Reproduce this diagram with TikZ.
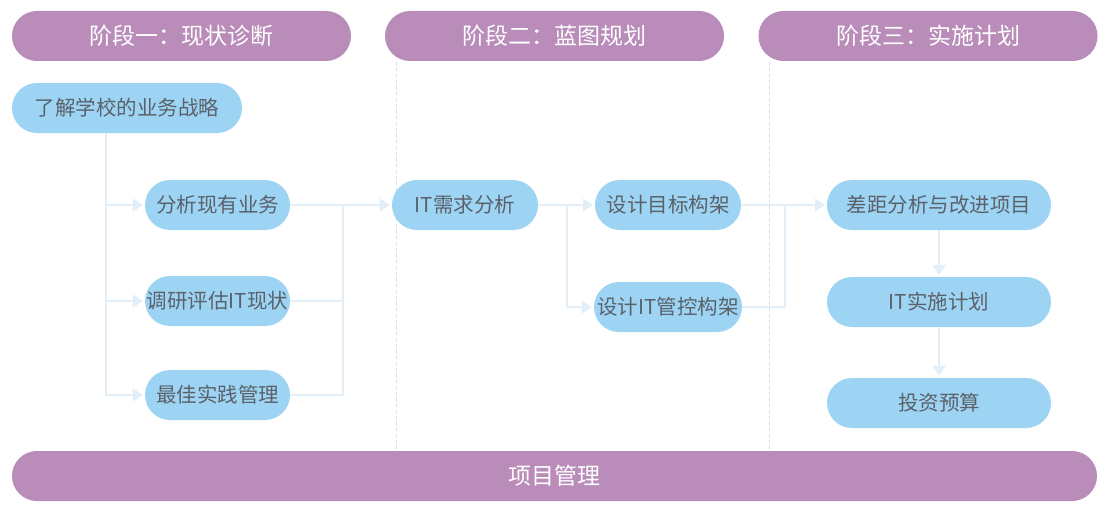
\documentclass[tikz,border=0pt]{standalone}
\usepackage{fontspec}
\setmainfont{Noto Sans CJK SC}
\usetikzlibrary{arrows.meta}
\definecolor{phasepink}{HTML}{B98CB9}
\definecolor{boxblue}{HTML}{9DD4F4}
\definecolor{linkblue}{HTML}{E2EFF8}
\definecolor{sepblue}{HTML}{C9DFEE}
\definecolor{textgray}{HTML}{5A6169}
\begin{document}
\begin{tikzpicture}[x=1pt, y=-1pt,
  phase/.style={fill=phasepink, rounded corners=25pt, minimum height=50pt, inner sep=0pt,
    text=white, font=\fontsize{23}{23}\selectfont},
  box/.style={fill=boxblue, rounded corners=25pt, minimum height=50pt, inner sep=0pt,
    text=textgray, font=\fontsize{20.5}{20.5}\selectfont},
  link/.style={draw=linkblue, line width=1.2pt},
  arr/.style={link, -{Triangle[length=10pt, width=13pt]}, shorten >=2pt},
  sep/.style={draw=sepblue, dashed, line width=0.6pt}]
  \useasboundingbox[fill=white] (0,0) rectangle (1108,511);
  % phase headers
  \node[phase, minimum width=339pt] (p1) at (181.5,36) {阶段一：现状诊断};
  \node[phase, minimum width=339pt] (p2) at (554.5,36) {阶段二：蓝图规划};
  \node[phase, minimum width=339pt] (p3) at (928,36) {阶段三：实施计划};
  \node[phase, minimum width=1085pt] (pm) at (554.5,476) {项目管理};
  % dividers
  \draw[sep] (396,62) -- (396,450);
  \draw[sep] (769,62) -- (769,450);
  % phase one
  \node[box, minimum width=230pt] (s0) at (127,108) {了解学校的业务战略};
  \node[box, minimum width=145pt] (a1) at (217.5,205) {分析现有业务};
  \node[box, minimum width=145pt] (a2) at (217.5,301) {调研评估IT现状};
  \node[box, minimum width=145pt] (a3) at (217.5,395) {最佳实践管理};
  % phase two
  \node[box, minimum width=146pt] (b1) at (465,205) {IT需求分析};
  \node[box, minimum width=146pt] (c1) at (668,205) {设计目标构架};
  \node[box, minimum width=148pt] (c2) at (668,307) {设计IT管控构架};
  % phase three
  \node[box, minimum width=224pt] (d1) at (939,205) {差距分析与改进项目};
  \node[box, minimum width=224pt] (d2) at (939,302) {IT实施计划};
  \node[box, minimum width=224pt] (d3) at (939,403) {投资预算};
  % connectors
  \coordinate (t0) at (106,133);
  \coordinate (j1) at (343,205);
  \coordinate (j2) at (567,205);
  \coordinate (j3) at (785,205);
  \draw[link] (t0) -- (106,395);
  \draw[arr] (t0) |- (a1.west);
  \draw[arr] (t0) |- (a2.west);
  \draw[arr] (t0) |- (a3.west);
  \draw[link] (a1.east) -- (j1);
  \draw[link] (a2.east) -| (j1);
  \draw[link] (a3.east) -| (j1);
  \draw[arr] (j1) -- (b1.west);
  \draw[link] (b1.east) -- (j2);
  \draw[arr] (j2) -- (c1.west);
  \draw[arr] (j2) |- (c2.west);
  \draw[link] (c1.east) -- (j3);
  \draw[link] (c2.east) -| (j3);
  \draw[arr] (j3) -- (d1.west);
  \draw[arr] (d1.south) -- (d2.north);
  \draw[arr] (d2.south) -- (d3.north);
\end{tikzpicture}
\end{document}
